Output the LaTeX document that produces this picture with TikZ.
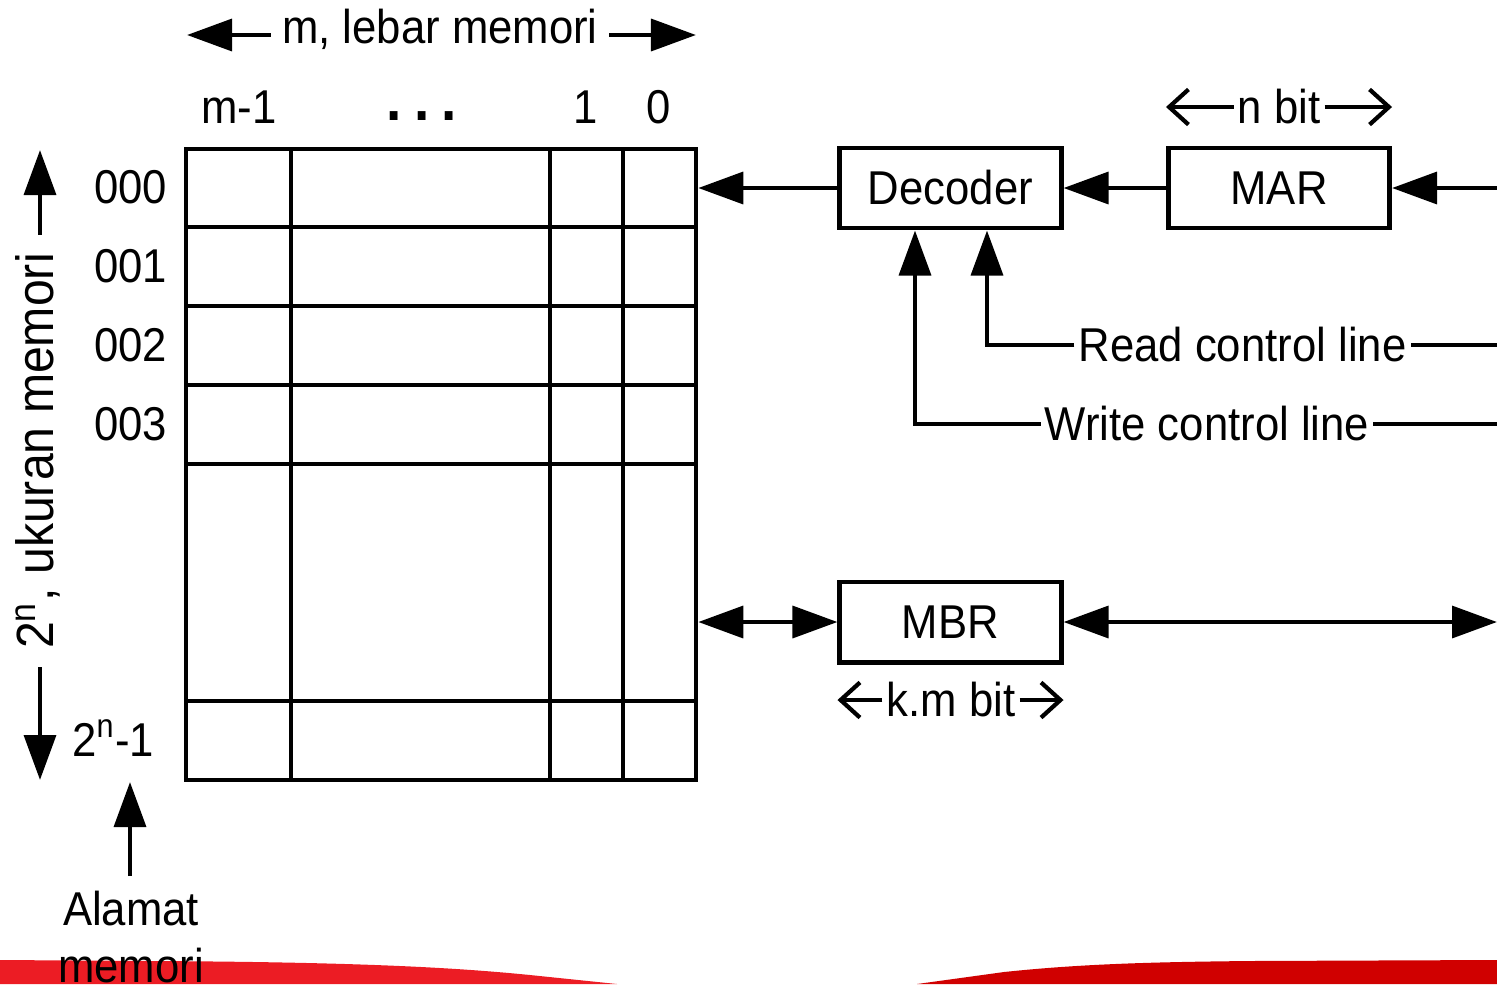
\documentclass[tikz,border=0pt]{standalone}
\usepackage{fontspec}
\setmainfont{Liberation Sans}[FakeStretch=0.92]
\usetikzlibrary{arrows.meta}
\newcommand\mainfs{\fontsize{13.5pt}{16.2pt}\selectfont}
\definecolor{bandL}{HTML}{EC1C24}
\definecolor{bandR}{HTML}{D00000}
\begin{document}
\begin{tikzpicture}[x=0.01cm,y=-0.01cm,
  every node/.style={font=\mainfs,inner sep=2pt},
  ln/.style={line width=1.3pt},
  tri/.style={ln,-{Triangle[length=12.8pt,width=9pt]}},
  tritwo/.style={ln,{Triangle[length=12.8pt,width=9pt]}-{Triangle[length=12.8pt,width=9pt]}},
  barb/.style={line width=1.2pt,-{Straight Barb[length=5.5pt,width=10pt,line width=1.2pt]}},
  box/.style={draw,line width=1.4pt,minimum width=2.21cm,minimum height=0.8cm,inner sep=0pt},
  grid/.style={line width=1.2pt}]
\useasboundingbox (0,0) rectangle (1497,984);
% decorative band
\fill[bandL] (0,960) -- (150,961) .. controls (350,962) and (450,967) .. (530,975) -- (617,984) -- (0,984) -- cycle;
\fill[bandR] (917,984) -- (1004,972) .. controls (1080,964) and (1150,962) .. (1250,961) -- (1497,960) -- (1497,984) -- cycle;
% memory array
\node[draw,grid,minimum width=5.1cm,minimum height=6.31cm,inner sep=0pt] (mem) at (441,464.5) {};
\foreach \xx in {291,550,623} \draw[grid] (\xx,149) -- (\xx,780);
\foreach \yy in {227,306,385,464,701} \draw[grid] (186,\yy) -- (696,\yy);
% column labels
\node (cm1) at (239,107) {m-1};
\node[font=\fontsize{17pt}{18pt}\selectfont\bfseries] (cdots) at (422,116) {.\hspace{3.5pt}.\hspace{3.5pt}.};
\node (c1) at (586,107) {1};
\node (c0) at (659,107) {0};
% width label
\node[inner sep=3pt] (mw) at (440,29) {m, lebar memori};
\coordinate (ml) at (187,35);
\coordinate (mr) at (696,35);
\draw[tri] (ml -| mw.west) -- (ml);
\draw[tri] (mr -| mw.east) -- (mr);
% row labels
\node[anchor=east] (r0) at (175,187) {000};
\node[anchor=east] (r1) at (175,266) {001};
\node[anchor=east] (r2) at (175,345) {002};
\node[anchor=east] (r3) at (175,424) {003};
\node[anchor=east] (rn) at (162,738) {2\textsuperscript{n}-1};
% size label
\node[rotate=90,inner sep=5pt,font=\fontsize{14.9pt}{17pt}\selectfont] (sz) at (38,451) {2\textsuperscript{n}, ukuran memori};
\coordinate (st) at (40,150);
\coordinate (sb) at (40,780);
\draw[tri] (st |- sz.east) -- (st);
\draw[tri] (sb |- sz.west) -- (sb);
% address label
\node[align=center,inner sep=0pt] (adr) at (131,937) {Alamat\\memori};
\coordinate (at) at (130,782);
\coordinate (ab) at (130,876);
\draw[tri] (ab) -- (at);
% boxes
\node[box] (dec) at (950.5,188) {Decoder};
\node[box] (mar) at (1279,188) {MAR};
\node[box] (mbr) at (950.5,622) {MBR};
% connections
\coordinate (rin) at (1497,188);
\draw[tri] (rin) -- (mar.east);
\draw[tri] (mar.west) -- (dec.west -| dec.east);
\draw[tri] (dec.west) -- (dec.west -| mem.east);
\draw[tritwo] (mem.east |- mbr.west) -- (mbr.west);
\coordinate (rmbr) at (1497,622);
\draw[tritwo] (mbr.east) -- (rmbr);
% control lines
\node[inner sep=1pt] (rd) at (1242.5,345) {Read control line};
\node[inner sep=1pt] (wr) at (1207,424) {Write control line};
\coordinate (rdend) at (1497,345);
\coordinate (wrend) at (1497,424);
\coordinate (rx) at (987,0);
\coordinate (wx) at (915,0);
\draw[ln] (rdend) -- (rd.east);
\draw[ln] (wrend) -- (wr.east);
\draw[tri] (rd.west) -| (rx |- dec.south);
\draw[tri] (wr.west) -| (wx |- dec.south);
% bit width labels
\node[inner sep=1pt] (nb) at (1279,107) {n bit};
\draw[barb] (nb.west) -- (nb.west -| mar.west);
\draw[barb] (nb.east) -- (nb.east -| mar.east);
\node[inner sep=1pt] (kb) at (951,700) {k.m bit};
\draw[barb] (kb.west) -- (kb.west -| mbr.west);
\draw[barb] (kb.east) -- (kb.east -| mbr.east);
\end{tikzpicture}
\end{document}
